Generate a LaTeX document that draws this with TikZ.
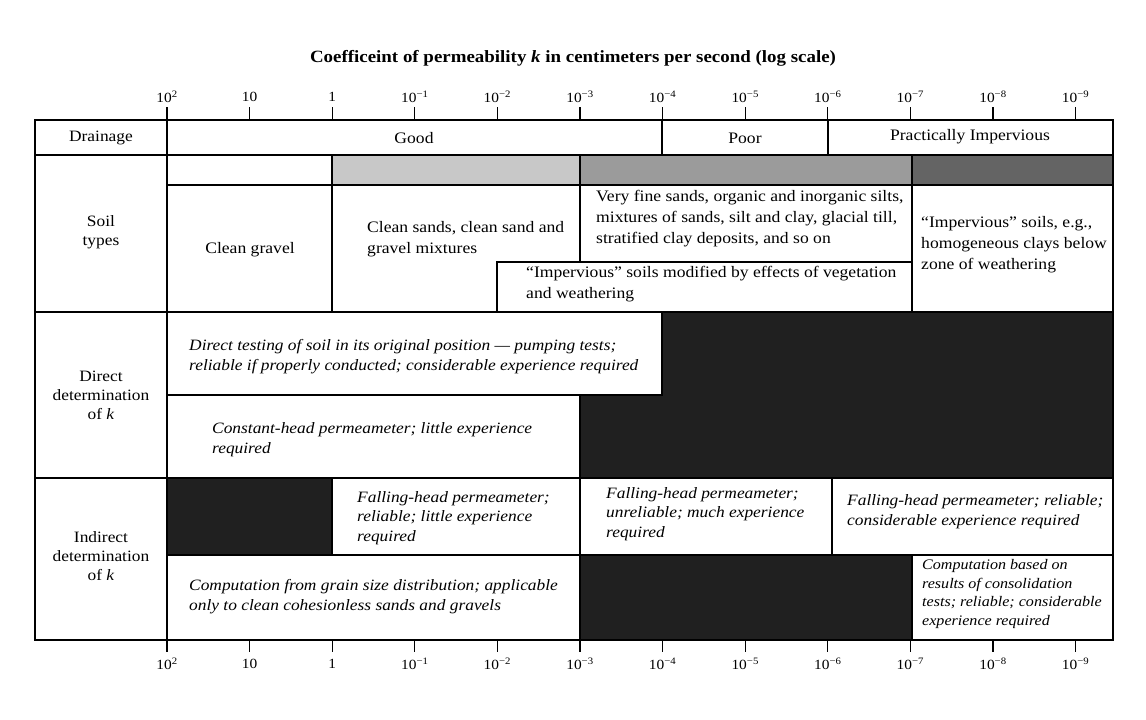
\documentclass[tikz,border=0pt]{standalone}
\usepackage{fontspec}
\setmainfont{Liberation Serif}[FakeStretch=1.1]
\definecolor{lightband}{RGB}{200,200,200}
\definecolor{medband}{RGB}{155,155,155}
\definecolor{darkband}{RGB}{100,100,100}
\definecolor{blk}{RGB}{32,32,32}
\begin{document}
\begin{tikzpicture}[x=1pt,y=-1pt,
  grid/.style={draw=black,line width=1.3pt},
  blackcell/.style={grid,fill=blk},
  txt/.style={font=\fontsize{16}{21}\selectfont,align=left,inner sep=0pt,anchor=west},
  ctxt/.style={font=\fontsize{16}{21}\selectfont,align=center,inner sep=0pt},
  itxt/.style={font=\fontsize{15.8}{19.8}\selectfont\itshape,align=left,inner sep=0pt,anchor=west},
  rowlbl/.style={font=\fontsize{15.8}{19}\selectfont,align=center,inner sep=0pt},
  ticklbl/.style={font=\fontsize{14}{16}\selectfont,inner sep=0pt},
  tickline/.style={line width=1.1pt}
]
\useasboundingbox (0,0) rectangle (1146,720);

% title
\node[font=\fontsize{17.2}{20}\selectfont\bfseries,inner sep=0pt] (title) at (573,58)
  {Coefficeint of permeability \textit{k} in centimeters per second (log scale)};

% tick labels and ticks
\foreach \i/\lab in {0/10\textsuperscript{2},1/10,2/1,3/10\textsuperscript{−1},4/10\textsuperscript{−2},
  5/10\textsuperscript{−3},6/10\textsuperscript{−4},7/10\textsuperscript{−5},8/10\textsuperscript{−6},
  9/10\textsuperscript{−7},10/10\textsuperscript{−8},11/10\textsuperscript{−9}}{
  \pgfmathsetmacro{\xx}{167+82.6*\i}
  \node[ticklbl] (t\i) at (\xx,97) {\lab};
  \coordinate (tt\i) at (\xx,107);
  \coordinate (tb\i) at (\xx,120);
  \draw[tickline] (tt\i) -- (tb\i);
  \node[ticklbl] (b\i) at (\xx,664) {\lab};
  \coordinate (bt\i) at (\xx,640);
  \coordinate (bb\i) at (\xx,652);
  \draw[tickline] (bt\i) -- (bb\i);
}

% Drainage row
\draw[grid] (35,120) rectangle (167,155);
\draw[grid] (167,120) rectangle (662,155);
\draw[grid] (662,120) rectangle (828,155);
\draw[grid] (828,120) rectangle (1113,155);
\node[rowlbl] (drain) at (101,138) {Drainage};
\node[ctxt] (good) at (414,138) {Good};
\node[ctxt] (poor) at (745,138) {Poor};
\node[ctxt] (pimp) at (970,137) {Practically Impervious};

% shading band
\draw[grid] (167,155) rectangle (332,185);
\draw[grid,fill=lightband] (332,155) rectangle (580,185);
\draw[grid,fill=medband] (580,155) rectangle (912,185);
\draw[grid,fill=darkband] (912,155) rectangle (1113,185);

% Soil types row
\draw[grid] (35,155) rectangle (167,312);
\node[rowlbl] (soil) at (101,232) {Soil\\types};
\draw[grid] (167,185) rectangle (332,312);
\node[ctxt] (gravel) at (250,250) {Clean gravel};
\draw[grid] (332,185) -- (580,185) -- (580,262) -- (497,262) -- (497,312) -- (332,312) -- cycle;
\node[txt] (sands) at (367,239) {Clean sands, clean sand and\\gravel mixtures};
\draw[grid] (580,185) rectangle (912,262);
\node[txt] (vfine) at (596,219) {Very fine sands, organic and inorganic silts,\\mixtures of sands, silt and clay, glacial till,\\stratified clay deposits, and so on};
\draw[grid] (497,262) rectangle (912,312);
\node[txt] (impmod) at (526,284) {“Impervious” soils modified by effects of vegetation\\and weathering};
\draw[grid] (912,185) rectangle (1113,312);
\node[txt] (imp) at (921,245) {“Impervious” soils, e.g.,\\homogeneous clays below\\zone of weathering};

% Direct determination row
\draw[grid] (35,312) rectangle (167,478);
\node[rowlbl] (direct) at (101,395) {Direct\\determination\\of \textit{k}};
\draw[blackcell] (662,312) -- (1113,312) -- (1113,478) -- (580,478) -- (580,395) -- (662,395) -- cycle;
\draw[grid] (167,312) rectangle (662,395);
\node[itxt] (dtest) at (189,357) {Direct testing of soil in its original position — pumping tests;\\reliable if properly conducted; considerable experience required};
\draw[grid] (167,395) rectangle (580,478);
\node[itxt] (chead) at (212,440) {Constant-head permeameter; little experience\\required};

% Indirect determination row
\draw[grid] (35,478) rectangle (167,640);
\node[rowlbl] (indirect) at (101,556) {Indirect\\determination\\of \textit{k}};
\draw[blackcell] (167,478) rectangle (332,555);
\draw[grid] (332,478) rectangle (580,555);
\node[itxt] (fh1) at (357,518) {Falling-head permeameter;\\reliable; little experience\\required};
\draw[grid] (580,478) rectangle (832,555);
\node[itxt] (fh2) at (606,514) {Falling-head permeameter;\\unreliable; much experience\\required};
\draw[grid] (832,478) rectangle (1113,555);
\node[itxt] (fh3) at (847,512) {Falling-head permeameter; reliable;\\considerable experience required};
\draw[grid] (167,555) rectangle (580,640);
\node[itxt] (cgrain) at (189,597) {Computation from grain size distribution; applicable\\only to clean cohesionless sands and gravels};
\draw[blackcell] (580,555) rectangle (912,640);
\draw[grid] (912,555) rectangle (1113,640);
\node[itxt,font=\fontsize{14.6}{18.6}\selectfont\itshape] (ccons) at (922,594) {Computation based on\\results of consolidation\\tests; reliable; considerable\\experience required};
\end{tikzpicture}
\end{document}
